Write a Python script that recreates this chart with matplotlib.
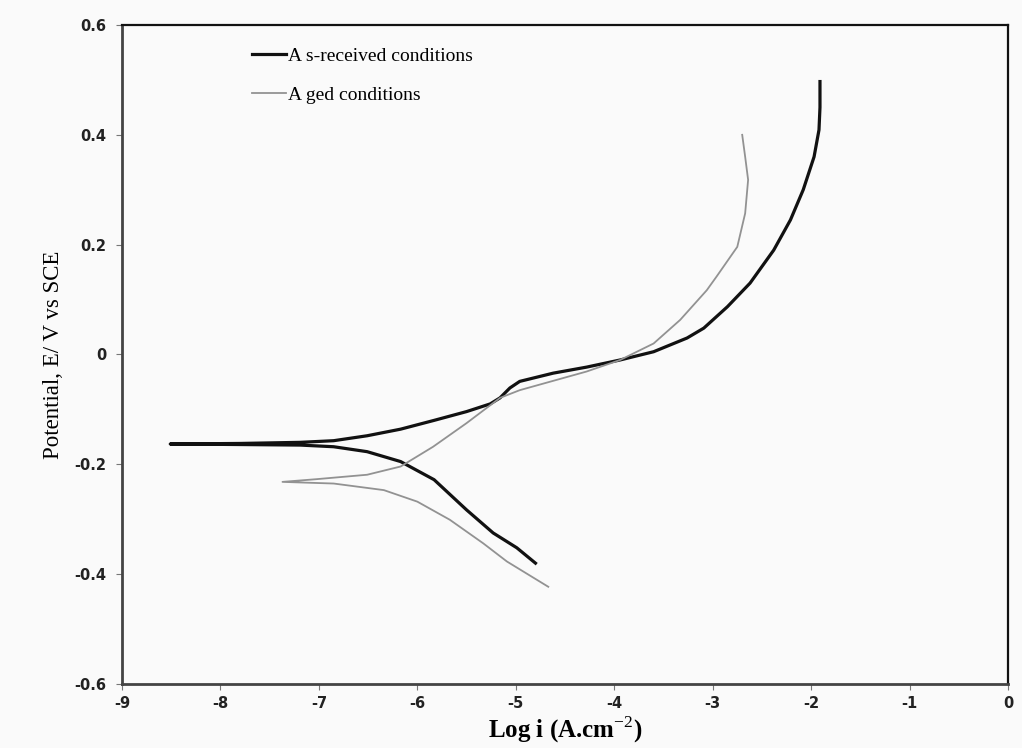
import matplotlib
matplotlib.use('Agg')
import matplotlib.pyplot as plt
import numpy as np

plt.rcParams['mathtext.fontset'] = 'custom'
plt.rcParams['mathtext.rm'] = 'Liberation Serif'
plt.rcParams['mathtext.bf'] = 'Liberation Serif:bold'

# polarization curves, cathodic end -> corrosion potential -> anodic end
RECEIVED_LOGI = [-4.80, -4.99, -5.23, -5.50, -5.83, -6.17, -6.51, -6.85, -7.19, -7.80, -8.51,
                 -7.80, -7.19, -6.85, -6.51, -6.17, -5.83, -5.50, -5.26, -5.16, -5.06, -4.96,
                 -4.62, -4.28, -3.94, -3.60, -3.26, -3.09, -2.85, -2.62, -2.38, -2.21, -2.08,
                 -1.97, -1.92, -1.91, -1.91]
RECEIVED_E = [-0.380, -0.352, -0.325, -0.283, -0.228, -0.195, -0.177, -0.168, -0.165, -0.164, -0.163,
              -0.162, -0.160, -0.157, -0.148, -0.136, -0.120, -0.104, -0.090, -0.079, -0.061, -0.049,
              -0.034, -0.023, -0.010, 0.005, 0.030, 0.048, 0.087, 0.130, 0.190, 0.245, 0.300,
              0.360, 0.409, 0.450, 0.497]

AGED_LOGI = [-4.67, -5.09, -5.33, -5.67, -6.00, -6.34, -6.85, -7.20, -7.37,
             -7.02, -6.51, -6.17, -5.84, -5.50, -5.16, -4.96, -4.62, -4.28, -3.94,
             -3.60, -3.33, -3.06, -2.96, -2.75, -2.67, -2.64, -2.67, -2.70]
AGED_E = [-0.423, -0.377, -0.344, -0.301, -0.268, -0.247, -0.235, -0.233, -0.232,
          -0.227, -0.219, -0.204, -0.168, -0.125, -0.079, -0.065, -0.048, -0.031, -0.010,
          0.020, 0.063, 0.117, 0.142, 0.196, 0.257, 0.318, 0.360, 0.400]

X_TICKS = list(range(-9, 1))
Y_TICKS = [-0.6, -0.4, -0.2, 0, 0.2, 0.4, 0.6]
Y_TICK_LABELS = ['-0.6', '-0.4', '-0.2', '0', '0.2', '0.4', '0.6']

BG = '#fafafa'

fig = plt.figure(figsize=(10.22, 7.48), dpi=100, facecolor=BG)
ax = fig.add_axes([0.1194, 0.0856, 0.8669, 0.881], facecolor=BG)

ax.plot(RECEIVED_LOGI, RECEIVED_E, color='#111111', linewidth=2.3,
        solid_joinstyle='round', label='A s-received conditions')
ax.plot(AGED_LOGI, AGED_E, color='#929292', linewidth=1.3,
        solid_joinstyle='round', label='A ged conditions')

ax.set_xlim(-9, 0)
ax.set_ylim(-0.6, 0.6)
ax.set_xticks(X_TICKS)
ax.set_xticklabels([str(t) for t in X_TICKS])
ax.set_yticks(Y_TICKS)
ax.set_yticklabels(Y_TICK_LABELS)

for lab in ax.get_xticklabels() + ax.get_yticklabels():
    lab.set_fontfamily('DejaVu Sans')
    lab.set_fontweight('bold')
    lab.set_fontsize(10.5)
    lab.set_color('#222222')

ax.tick_params(direction='out', length=4, width=0.8, color='#777777', pad=5)
ax.tick_params(axis='y', pad=7)

for side in ['left', 'bottom']:
    ax.spines[side].set_linewidth(2.0)
    ax.spines[side].set_color('#444444')
for side in ['top', 'right']:
    ax.spines[side].set_linewidth(1.6)
    ax.spines[side].set_color('#111111')

ax.set_xlabel(r'Log i (A.cm$^{-2}$)', fontfamily='Liberation Serif', fontsize=18,
              fontweight='bold', labelpad=2)
ax.set_ylabel('Potential, E/ V vs SCE', fontfamily='Liberation Serif', fontsize=16.5,
              labelpad=8)

leg = ax.legend(loc='upper left', bbox_to_anchor=(0.127, 0.9924), frameon=False,
                handlelength=1.75, handletextpad=0.1, labelspacing=1.1,
                prop={'family': 'Liberation Serif', 'size': 14})

fig.savefig('out.png', dpi=100, facecolor=BG)
